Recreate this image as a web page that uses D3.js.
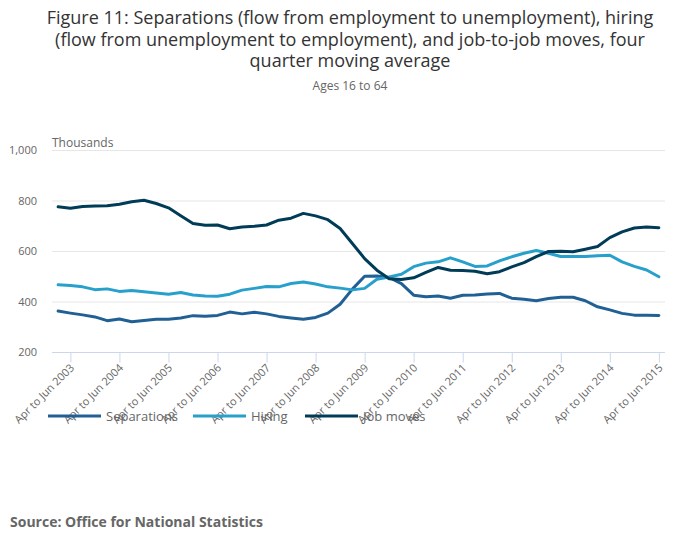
<!DOCTYPE html>
<html>
<head>
<meta charset="utf-8">
<script src="https://cdn.jsdelivr.net/npm/d3@7"></script>
<style>
  body { margin: 0; background: #fff; }
  text { font-family: "Open Sans", sans-serif; }
</style>
</head>
<body>
<div id="chart"></div>
<script>
// quarter labels, Jan to Mar 2003 ... Apr to Jun 2015
const quarterNames = ["Jan to Mar", "Apr to Jun", "Jul to Sep", "Oct to Dec"];
const years = d3.range(2003, 2016);
const categories = [];
years.forEach(y => quarterNames.forEach(q => categories.push(q + " " + y)));
categories.splice(50);

const yTicks = [200, 400, 600, 800, 1000];

// thousands, four quarter moving average
const separations = [362, 354, 347, 339, 324, 331, 320, 325, 330, 330,
    335, 344, 342, 345, 358, 351, 357, 351, 341, 335,
    330, 337, 354, 389, 449, 500, 501, 495, 471, 425,
    419, 422, 413, 425, 426, 430, 432, 413, 409, 403,
    412, 417, 417, 403, 379, 367, 353, 346, 346, 345];

const hiring = [466, 463, 458, 447, 450, 440, 444, 439, 434, 429,
    436, 426, 422, 421, 429, 445, 452, 459, 458, 471,
    477, 469, 458, 453, 446, 452, 488, 497, 508, 538,
    552, 557, 573, 557, 539, 541, 561, 577, 591, 602,
    591, 578, 578, 578, 581, 583, 557, 539, 525, 498];

const jobMoves = [775, 769, 776, 778, 779, 785, 795, 801, 788, 771,
    740, 709, 702, 703, 688, 695, 698, 703, 722, 730,
    749, 739, 724, 689, 630, 570, 524, 490, 487, 494,
    515, 535, 524, 523, 520, 510, 518, 537, 554, 578,
    598, 599, 597, 607, 618, 653, 676, 691, 695, 692];

const series = [
    { name: "Separations", values: separations, color: "#206095" },
    { name: "Hiring", values: hiring, color: "#27a0cc" },
    { name: "Job moves", values: jobMoves, color: "#003c57" }
];

const width = 700,
    height = 549,
    margin = { top: 150, right: 35, bottom: 197, left: 52 };

const svg = d3.select("#chart").append("svg")
    .attr("width", width)
    .attr("height", height);

const xScale = d3.scalePoint()
    .domain(categories)
    .range([margin.left, width - margin.right])
    .padding(0.5);

const yScale = d3.scaleLinear()
    .domain([200, 1000])
    .range([height - margin.bottom, margin.top]);

// Title
const titleLines = [
    "Figure 11: Separations (flow from employment to unemployment), hiring",
    "(flow from unemployment to employment), and job-to-job moves, four",
    "quarter moving average"
];
svg.append("text")
    .attr("x", width / 2)
    .attr("y", 24)
    .attr("text-anchor", "middle")
    .style("font-size", "18px")
    .style("fill", "#333")
    .selectAll("tspan")
    .data(titleLines)
    .enter()
    .append("tspan")
    .attr("x", width / 2)
    .attr("dy", (d, i) => i === 0 ? 0 : 21.5)
    .text(d => d);

svg.append("text")
    .attr("x", width / 2)
    .attr("y", 90)
    .attr("text-anchor", "middle")
    .style("font-size", "12px")
    .style("fill", "#666")
    .text("Ages 16 to 64");

// Gridlines
svg.append("g")
    .selectAll("line")
    .data(yTicks.filter(d => d !== 200))
    .enter()
    .append("line")
    .attr("x1", margin.left)
    .attr("x2", width - margin.right)
    .attr("y1", d => yScale(d) + 0.5)
    .attr("y2", d => yScale(d) + 0.5)
    .attr("stroke", "#e6e6e6");

// Y axis labels
const yAxis = svg.append("g")
    .attr("transform", `translate(${margin.left - 15},0)`)
    .call(d3.axisLeft(yScale).tickValues(yTicks).tickSize(0).tickFormat(d3.format(",")));
yAxis.select(".domain").remove();
yAxis.selectAll("text")
    .attr("x", 0)
    .style("font-size", "11px")
    .style("fill", "#666")
    .style("font-family", "'Open Sans', sans-serif");

svg.append("text")
    .attr("x", margin.left)
    .attr("y", 147)
    .style("font-size", "12px")
    .style("fill", "#666")
    .text("Thousands");

// X axis
const tickCats = categories.filter(d => d.startsWith("Apr to Jun"));
const xAxis = svg.append("g")
    .attr("transform", `translate(0,${height - margin.bottom + 0.5})`)
    .call(d3.axisBottom(xScale).tickValues(tickCats).tickSize(10).tickSizeOuter(0));
xAxis.select(".domain")
    .attr("d", `M${margin.left},0H${width - margin.right}`)
    .attr("stroke", "#ccd6eb");
xAxis.selectAll(".tick line").attr("stroke", "#ccd6eb");
xAxis.selectAll("text")
    .attr("y", 0)
    .attr("dy", 0)
    .attr("transform", "translate(4,16) rotate(-45)")
    .style("text-anchor", "end")
    .style("font-size", "11px")
    .style("fill", "#666")
    .style("font-family", "'Open Sans', sans-serif");

// Lines
const line = d3.line()
    .x((d, i) => xScale(categories[i]))
    .y(d => yScale(d));

svg.append("g")
    .selectAll("path")
    .data(series)
    .enter()
    .append("path")
    .attr("fill", "none")
    .attr("stroke", d => d.color)
    .attr("stroke-width", 3)
    .attr("stroke-linejoin", "round")
    .attr("stroke-linecap", "round")
    .attr("d", d => line(d.values));

// Legend
const legendX = [48, 193, 305];
const legend = svg.append("g")
    .selectAll("g")
    .data(series)
    .enter()
    .append("g")
    .attr("transform", (d, i) => `translate(${legendX[i]},416)`);
legend.append("line")
    .attr("x1", 0)
    .attr("x2", 53)
    .attr("stroke", d => d.color)
    .attr("stroke-width", 3);
legend.append("text")
    .attr("x", 58)
    .attr("y", 5)
    .style("font-size", "13px")
    .style("fill", "#666")
    .text(d => d.name);

// Source
svg.append("text")
    .attr("x", 10)
    .attr("y", 527)
    .style("font-size", "14px")
    .style("font-weight", "bold")
    .style("fill", "#666")
    .text("Source: Office for National Statistics");
</script>
</body>
</html>
